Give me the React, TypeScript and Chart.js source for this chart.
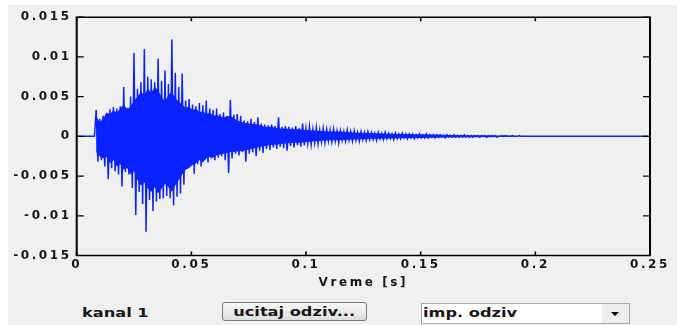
import React, { useEffect, useRef } from 'react';
import { Chart, registerables } from 'chart.js';

Chart.register(...registerables);

// ---- data -------------------------------------------------------------
const X_TICK_LABELS = ['0', '0.05', '0.1', '0.15', '0.2', '0.25'];
const Y_TICK_LABELS = ['-0.015', '-0.01', '-0.005', '0', '0.005', '0.01', '0.015'];
const X_TITLE = 'Vreme [s]';
const CHANNEL_LABEL = 'kanal 1';
const LOAD_BUTTON_LABEL = 'ucitaj odziv...';
const VIEW_SELECT_LABEL = 'imp. odziv';

// time of the first listed sample and the sample interval (seconds)
const FIRST_SAMPLE_TIME = 0.00775;
const SAMPLE_STEP = 0.00075;
const END_TIME = 0.25;

// impulse response amplitudes (peaks), in units of 1e-4
const AMPLITUDE_E4 = [
  0,
  33, -32, 22, -30, 26, -38, 28, -54, 34, -40,
  37, -44, 35, -48, 38, -63, 62, -45, 36, -48,
  50, -65, 105, -99, 60, -70, 68, -85, 110, -120,
  75, -80, 72, -94, 68, -82, 98, -79, 70, -78,
  83, -75, 66, -78, 122, -87, 80, -76, 62, -72,
  79, -61, 45, -40, 47, -36, 40, -47, 38, -35,
  42, -38, 39, -30, 45, -33, 35, -28, 33, -30,
  35, -27, 28, -25, 30, -30, 26, -46, 46, -28,
  27, -22, 28, -24, 26, -20, 20, -32, 19, -22,
  22, -20, 18, -25, 24, -18, 16, -21, 15, -16,
  14, -17, 15, -14, 13, -16, 24, -13, 12, -15,
  13, -18, 12, -12, 11, -14, 13, -11, 10, -13,
  16, -11, 10, -9, 12, -10, 9, -8, 11, -9,
  8, -7, 10, -8, 9, -6, 8, -7, 9, -6,
  7, -8, 7, -5, 6, -6, 8, -5, 6, -6,
  7, -5, 5, -6, 6, -4, 5, -5, 6, -4,
  5, -4, 4, -5, 5, -3, 4, -4, 5, -3,
  4, -3, 3, -4, 4, -3, 3, -3, 4, -2,
  3, -3, 3, -2, 3, -3, 2, -2, 3, -2,
  2, -2, 3, -2, 2, -1, 2, -2, 2, -1,
  2, -1, 1, -2, 2, -1, 1, -1, 2, -1,
  1, -1, 1, -1, 2, -1, 1, -1, 1, -1,
  1, 0, 1, -1, 1, 0, 1, -1, 1, 0,
  1, 0, 1, -1, 0, 0, 1, 0, 1, 0,
  0, 0, 1, 0, 0, 0, 1, 0, 0,
];

// dense (solid) core of the response, units of 1e-4
const CORE_TIMES = [
  0.0085, 0.0100, 0.0115, 0.0130, 0.0145, 0.0160, 0.0175, 0.0190, 0.0205, 0.0220,
  0.0235, 0.0250, 0.0265, 0.0280, 0.0295, 0.0310, 0.0325, 0.0340, 0.0355, 0.0370,
  0.0385, 0.0400, 0.0415, 0.0430, 0.0445, 0.0460, 0.0475, 0.0490, 0.0505, 0.0520,
  0.0535, 0.0550, 0.0565, 0.0580, 0.0595, 0.0610, 0.0640, 0.0670, 0.0700, 0.0730,
  0.0760, 0.0790, 0.0820, 0.0850, 0.0880, 0.0910, 0.0940, 0.0970, 0.1000, 0.1050,
  0.1100, 0.1150, 0.1200, 0.1300, 0.1400, 0.1500, 0.1600, 0.1700, 0.1800, 0.1900,
  0.1950,
];
const CORE_UPPER_E4 = [
  25, 18, 22, 30, 28, 33, 30, 35, 40, 34,
  38, 45, 50, 56, 52, 60, 55, 62, 58, 50,
  44, 52, 56, 48, 44, 40, 36, 38, 33, 35,
  30, 32, 28, 30, 26, 27, 24, 26, 20, 17,
  16, 15, 12, 12, 10, 10, 9, 9, 8, 7,
  6, 6, 5, 4, 3, 2.5, 2, 1.5, 1, 0.8,
  0,
];
const CORE_LOWER_E4 = [
  -20, -25, -28, -26, -34, -30, -38, -35, -42, -40,
  -48, -44, -55, -62, -58, -66, -70, -64, -72, -66,
  -60, -64, -70, -62, -55, -48, -42, -40, -36, -34,
  -30, -33, -28, -26, -27, -24, -22, -20, -19, -18,
  -16, -14, -12, -11, -10, -9, -8, -8, -7, -6,
  -5, -5, -4, -3, -2.5, -2, -1.5, -1, -1, -0.5,
  0,
];

// ---- styling ----------------------------------------------------------
const LINE_BLUE = '#0a22ff';
const TEXT_COLOR = '#151515';
const PANEL_BG = '#f0f0f0';
const FONT_FAMILY = "'DejaVu Sans', sans-serif";
const TEXT_STRETCH = 1.35;

const axesBoxPlugin = {
  id: 'axesBox',
  beforeLayout(chart: any) {
    chart.ctx.letterSpacing = '2.6px';
  },
  beforeDraw(chart: any) {
    chart.ctx.letterSpacing = '2.6px';
  },
  afterDraw(chart: any) {
    const { ctx, chartArea, scales } = chart;
    const { left, right, top, bottom } = chartArea;
    ctx.save();
    ctx.strokeStyle = '#000';
    ctx.lineWidth = 1.4;
    ctx.beginPath();
    ctx.moveTo(left - 1, top);
    ctx.lineTo(right + 1, top);
    ctx.moveTo(left - 1, bottom);
    ctx.lineTo(right + 1, bottom);
    ctx.stroke();
    ctx.lineWidth = 2;
    ctx.beginPath();
    ctx.moveTo(left, top);
    ctx.lineTo(left, bottom);
    ctx.moveTo(right, top);
    ctx.lineTo(right, bottom);
    ctx.stroke();
    ctx.lineWidth = 1.6;
    ctx.beginPath();
    scales.x.ticks.forEach((t: any) => {
      const px = scales.x.getPixelForValue(t.value);
      ctx.moveTo(px, bottom);
      ctx.lineTo(px, bottom - 4);
      ctx.moveTo(px, top);
      ctx.lineTo(px, top + 4);
    });
    ctx.stroke();
    ctx.lineWidth = 1.2;
    ctx.beginPath();
    scales.y.ticks.forEach((t: any) => {
      const py = scales.y.getPixelForValue(t.value);
      ctx.moveTo(left, py);
      ctx.lineTo(left + 7, py);
      ctx.moveTo(right, py);
      ctx.lineTo(right - 7, py);
    });
    ctx.stroke();
    ctx.restore();
  },
};

export default function App() {
  const canvasRef = useRef<HTMLCanvasElement | null>(null);

  useEffect(() => {
    const canvas = canvasRef.current;
    if (!canvas) return;
    const points = AMPLITUDE_E4.map((v, i) => ({
      x: FIRST_SAMPLE_TIME + i * SAMPLE_STEP,
      y: v * 1e-4,
    }));
    points.unshift({ x: 0, y: 0 });
    points.push({ x: END_TIME, y: 0 });
    const coreUpper = CORE_TIMES.map((t, i) => ({ x: t, y: CORE_UPPER_E4[i] * 1e-4 }));
    const coreLower = CORE_TIMES.map((t, i) => ({ x: t, y: CORE_LOWER_E4[i] * 1e-4 }));

    const tickFont = { family: FONT_FAMILY, size: 12, weight: 'bold' as const };

    const chart = new Chart(canvas, {
      type: 'line',
      data: {
        datasets: [
          {
            data: coreUpper,
            borderColor: LINE_BLUE,
            backgroundColor: LINE_BLUE,
            borderWidth: 0,
            pointRadius: 0,
            tension: 0,
            fill: '+1',
          },
          {
            data: coreLower,
            borderColor: LINE_BLUE,
            backgroundColor: LINE_BLUE,
            borderWidth: 0,
            pointRadius: 0,
            tension: 0,
            fill: false,
          },
          {
            data: points,
            borderColor: LINE_BLUE,
            borderWidth: 1.5,
            pointRadius: 0,
            tension: 0,
            fill: false,
          },
        ],
      },
      options: {
        animation: false,
        responsive: false,
        maintainAspectRatio: false,
        layout: { padding: { top: 9.3, right: 27, left: 0, bottom: 0.5 } },
        plugins: {
          legend: { display: false },
          tooltip: { enabled: false },
        },
        scales: {
          x: {
            type: 'linear',
            min: 0,
            max: 0.25,
            grid: { display: false, drawTicks: false },
            border: { display: false },
            ticks: {
              stepSize: 0.05,
              autoSkip: false,
              maxRotation: 0,
              padding: 2,
              color: TEXT_COLOR,
              font: tickFont,
              callback: (_v: any, i: number) => X_TICK_LABELS[i],
            },
            title: {
              display: true,
              text: X_TITLE,
              color: TEXT_COLOR,
              font: tickFont,
              padding: 0,
            },
            afterFit: (s: any) => {
              s.height = 35;
            },
          },
          y: {
            type: 'linear',
            min: -0.015,
            max: 0.015,
            grid: { display: false, drawTicks: false },
            border: { display: false },
            ticks: {
              stepSize: 0.005,
              padding: 5,
              color: TEXT_COLOR,
              font: tickFont,
              callback: (_v: any, i: number) => Y_TICK_LABELS[i],
            },
            afterFit: (s: any) => {
              s.width = 68.7;
            },
          },
        },
      },
      plugins: [axesBoxPlugin],
    });
    return () => chart.destroy();
  }, []);

  const stretched: React.CSSProperties = {
    display: 'inline-block',
    transform: `scaleX(${TEXT_STRETCH})`,
    whiteSpace: 'nowrap',
  };
  const textBase: React.CSSProperties = {
    fontFamily: FONT_FAMILY,
    fontSize: 12,
    fontWeight: 'bold',
    color: TEXT_COLOR,
    lineHeight: '14px',
  };

  return (
    <div
      style={{
        position: 'absolute',
        left: 8,
        top: 5,
        width: 669,
        height: 320,
        background: PANEL_BG,
        overflow: 'hidden',
      }}
    >
      <canvas
        ref={canvasRef}
        width={669}
        height={286}
        style={{ position: 'absolute', left: 0, top: 0, width: 669, height: 286 }}
      />
      <div style={{ ...textBase, position: 'absolute', left: 74, top: 301 }}>
        <span style={{ ...stretched, transformOrigin: 'left center' }}>{CHANNEL_LABEL}</span>
      </div>
      <div
        style={{
          ...textBase,
          position: 'absolute',
          left: 213.7,
          top: 297.3,
          width: 145,
          height: 19,
          boxSizing: 'border-box',
          border: '1px solid #7a7a7a',
          borderRadius: 3,
          background: 'linear-gradient(#f7f7f7, #dedede)',
          display: 'flex',
          alignItems: 'center',
          justifyContent: 'center',
        }}
      >
        <span style={stretched}>{LOAD_BUTTON_LABEL}</span>
      </div>
      <div
        style={{
          ...textBase,
          position: 'absolute',
          left: 413,
          top: 297.7,
          width: 209,
          height: 21,
          boxSizing: 'border-box',
          border: '1px solid #a8a8a8',
          background: '#fff',
        }}
      >
        <span
          style={{
            ...stretched,
            transformOrigin: 'left center',
            position: 'absolute',
            left: 1,
            top: 2,
          }}
        >
          {VIEW_SELECT_LABEL}
        </span>
        <div
          style={{
            position: 'absolute',
            right: 0,
            top: 0,
            width: 27,
            height: 19,
            background: '#ececec',
          }}
        >
          <div
            style={{
              position: 'absolute',
              left: 9,
              top: 8,
              width: 0,
              height: 0,
              borderLeft: '4px solid transparent',
              borderRight: '4px solid transparent',
              borderTop: '4px solid #000',
            }}
          />
        </div>
      </div>
    </div>
  );
}
